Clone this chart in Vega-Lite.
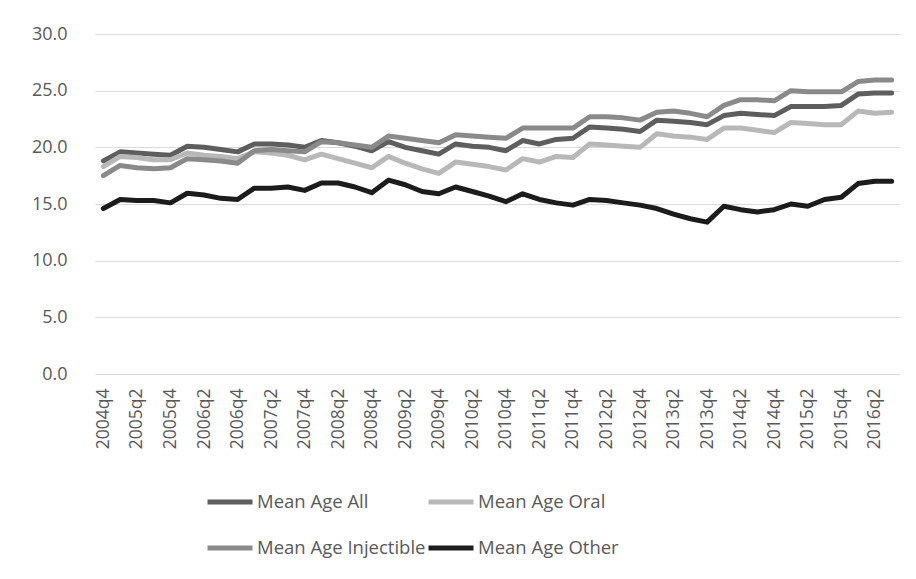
{
  "$schema": "https://vega.github.io/schema/vega-lite/v6.json",
  "width": 805,
  "height": 340,
  "autosize": {"type": "none"},
  "padding": {"left": 95, "top": 34, "right": 16, "bottom": 205},
  "background": "white",
  "config": {
    "view": {"stroke": null},
    "font": "Open Sans"
  },
  "data": {
    "values": [
      {"q": "2004q4", "Mean Age All": 18.8, "Mean Age Oral": 18.3, "Mean Age Injectible": 17.5, "Mean Age Other": 14.6},
      {"q": "2005q1", "Mean Age All": 19.6, "Mean Age Oral": 19.2, "Mean Age Injectible": 18.4, "Mean Age Other": 15.4},
      {"q": "2005q2", "Mean Age All": 19.5, "Mean Age Oral": 19.1, "Mean Age Injectible": 18.2, "Mean Age Other": 15.3},
      {"q": "2005q3", "Mean Age All": 19.4, "Mean Age Oral": 18.9, "Mean Age Injectible": 18.1, "Mean Age Other": 15.3},
      {"q": "2005q4", "Mean Age All": 19.3, "Mean Age Oral": 18.9, "Mean Age Injectible": 18.2, "Mean Age Other": 15.1},
      {"q": "2006q1", "Mean Age All": 20.1, "Mean Age Oral": 19.5, "Mean Age Injectible": 19.0, "Mean Age Other": 15.95},
      {"q": "2006q2", "Mean Age All": 20.0, "Mean Age Oral": 19.3, "Mean Age Injectible": 18.9, "Mean Age Other": 15.8},
      {"q": "2006q3", "Mean Age All": 19.8, "Mean Age Oral": 19.2, "Mean Age Injectible": 18.8, "Mean Age Other": 15.5},
      {"q": "2006q4", "Mean Age All": 19.6, "Mean Age Oral": 19.0, "Mean Age Injectible": 18.6, "Mean Age Other": 15.4},
      {"q": "2007q1", "Mean Age All": 20.3, "Mean Age Oral": 19.6, "Mean Age Injectible": 19.7, "Mean Age Other": 16.4},
      {"q": "2007q2", "Mean Age All": 20.3, "Mean Age Oral": 19.5, "Mean Age Injectible": 19.8, "Mean Age Other": 16.4},
      {"q": "2007q3", "Mean Age All": 20.2, "Mean Age Oral": 19.3, "Mean Age Injectible": 19.7, "Mean Age Other": 16.5},
      {"q": "2007q4", "Mean Age All": 20.0, "Mean Age Oral": 18.9, "Mean Age Injectible": 19.6, "Mean Age Other": 16.2},
      {"q": "2008q1", "Mean Age All": 20.6, "Mean Age Oral": 19.4, "Mean Age Injectible": 20.5, "Mean Age Other": 16.85},
      {"q": "2008q2", "Mean Age All": 20.4, "Mean Age Oral": 19.0, "Mean Age Injectible": 20.4, "Mean Age Other": 16.85},
      {"q": "2008q3", "Mean Age All": 20.1, "Mean Age Oral": 18.6, "Mean Age Injectible": 20.2, "Mean Age Other": 16.5},
      {"q": "2008q4", "Mean Age All": 19.7, "Mean Age Oral": 18.2, "Mean Age Injectible": 20.0, "Mean Age Other": 16.0},
      {"q": "2009q1", "Mean Age All": 20.5, "Mean Age Oral": 19.2, "Mean Age Injectible": 21.0, "Mean Age Other": 17.1},
      {"q": "2009q2", "Mean Age All": 20.0, "Mean Age Oral": 18.6, "Mean Age Injectible": 20.8, "Mean Age Other": 16.7},
      {"q": "2009q3", "Mean Age All": 19.7, "Mean Age Oral": 18.1, "Mean Age Injectible": 20.6, "Mean Age Other": 16.1},
      {"q": "2009q4", "Mean Age All": 19.4, "Mean Age Oral": 17.7, "Mean Age Injectible": 20.4, "Mean Age Other": 15.9},
      {"q": "2010q1", "Mean Age All": 20.3, "Mean Age Oral": 18.7, "Mean Age Injectible": 21.1, "Mean Age Other": 16.5},
      {"q": "2010q2", "Mean Age All": 20.1, "Mean Age Oral": 18.5, "Mean Age Injectible": 21.0, "Mean Age Other": 16.1},
      {"q": "2010q3", "Mean Age All": 20.0, "Mean Age Oral": 18.3, "Mean Age Injectible": 20.9, "Mean Age Other": 15.7},
      {"q": "2010q4", "Mean Age All": 19.7, "Mean Age Oral": 18.0, "Mean Age Injectible": 20.8, "Mean Age Other": 15.2},
      {"q": "2011q1", "Mean Age All": 20.6, "Mean Age Oral": 19.0, "Mean Age Injectible": 21.7, "Mean Age Other": 15.9},
      {"q": "2011q2", "Mean Age All": 20.3, "Mean Age Oral": 18.7, "Mean Age Injectible": 21.7, "Mean Age Other": 15.4},
      {"q": "2011q3", "Mean Age All": 20.7, "Mean Age Oral": 19.2, "Mean Age Injectible": 21.7, "Mean Age Other": 15.1},
      {"q": "2011q4", "Mean Age All": 20.8, "Mean Age Oral": 19.1, "Mean Age Injectible": 21.7, "Mean Age Other": 14.9},
      {"q": "2012q1", "Mean Age All": 21.8, "Mean Age Oral": 20.3, "Mean Age Injectible": 22.7, "Mean Age Other": 15.4},
      {"q": "2012q2", "Mean Age All": 21.7, "Mean Age Oral": 20.2, "Mean Age Injectible": 22.7, "Mean Age Other": 15.3},
      {"q": "2012q3", "Mean Age All": 21.6, "Mean Age Oral": 20.1, "Mean Age Injectible": 22.6, "Mean Age Other": 15.1},
      {"q": "2012q4", "Mean Age All": 21.4, "Mean Age Oral": 20.0, "Mean Age Injectible": 22.4, "Mean Age Other": 14.9},
      {"q": "2013q1", "Mean Age All": 22.4, "Mean Age Oral": 21.2, "Mean Age Injectible": 23.1, "Mean Age Other": 14.6},
      {"q": "2013q2", "Mean Age All": 22.3, "Mean Age Oral": 21.0, "Mean Age Injectible": 23.2, "Mean Age Other": 14.1},
      {"q": "2013q3", "Mean Age All": 22.2, "Mean Age Oral": 20.9, "Mean Age Injectible": 23.0, "Mean Age Other": 13.7},
      {"q": "2013q4", "Mean Age All": 22.0, "Mean Age Oral": 20.7, "Mean Age Injectible": 22.7, "Mean Age Other": 13.4},
      {"q": "2014q1", "Mean Age All": 22.8, "Mean Age Oral": 21.7, "Mean Age Injectible": 23.7, "Mean Age Other": 14.8},
      {"q": "2014q2", "Mean Age All": 23.0, "Mean Age Oral": 21.7, "Mean Age Injectible": 24.2, "Mean Age Other": 14.5},
      {"q": "2014q3", "Mean Age All": 22.9, "Mean Age Oral": 21.5, "Mean Age Injectible": 24.2, "Mean Age Other": 14.3},
      {"q": "2014q4", "Mean Age All": 22.8, "Mean Age Oral": 21.3, "Mean Age Injectible": 24.1, "Mean Age Other": 14.5},
      {"q": "2015q1", "Mean Age All": 23.6, "Mean Age Oral": 22.2, "Mean Age Injectible": 25.0, "Mean Age Other": 15.0},
      {"q": "2015q2", "Mean Age All": 23.6, "Mean Age Oral": 22.1, "Mean Age Injectible": 24.9, "Mean Age Other": 14.8},
      {"q": "2015q3", "Mean Age All": 23.6, "Mean Age Oral": 22.0, "Mean Age Injectible": 24.9, "Mean Age Other": 15.4},
      {"q": "2015q4", "Mean Age All": 23.7, "Mean Age Oral": 22.0, "Mean Age Injectible": 24.9, "Mean Age Other": 15.6},
      {"q": "2016q1", "Mean Age All": 24.7, "Mean Age Oral": 23.2, "Mean Age Injectible": 25.8, "Mean Age Other": 16.8},
      {"q": "2016q2", "Mean Age All": 24.8, "Mean Age Oral": 23.0, "Mean Age Injectible": 25.95, "Mean Age Other": 17.0},
      {"q": "2016q3", "Mean Age All": 24.8, "Mean Age Oral": 23.1, "Mean Age Injectible": 25.95, "Mean Age Other": 17.0}
    ]
  },
  "transform": [
    {"fold": ["Mean Age All", "Mean Age Oral", "Mean Age Injectible", "Mean Age Other"], "as": ["series", "age"]}
  ],
  "mark": {"type": "line", "strokeWidth": 5, "strokeCap": "round", "strokeJoin": "round"},
  "encoding": {
    "x": {
      "field": "q",
      "type": "ordinal",
      "sort": null,
      "scale": {"type": "point", "padding": 0.5},
      "axis": {
        "title": null,
        "domain": false,
        "ticks": false,
        "grid": false,
        "labelAngle": -90,
        "labelPadding": 14,
        "labelFontSize": 17.5,
        "labelColor": "#595959",
        "labelFont": "Open Sans",
        "labelOverlap": false,
        "labelExpr": "indexof(datum.label, 'q2') > 0 || indexof(datum.label, 'q4') > 0 ? datum.label : ''"
      }
    },
    "y": {
      "field": "age",
      "type": "quantitative",
      "scale": {"domain": [0, 30], "nice": false},
      "axis": {
        "title": null,
        "values": [0, 5, 10, 15, 20, 25, 30],
        "format": ".1f",
        "domain": false,
        "ticks": false,
        "labelPadding": 28,
        "labelFontSize": 18,
        "labelColor": "#595959",
        "labelFont": "Open Sans",
        "gridColor": "#d9d9d9",
        "gridWidth": 1.2
      }
    },
    "color": {
      "field": "series",
      "type": "nominal",
      "scale": {
        "domain": ["Mean Age All", "Mean Age Oral", "Mean Age Injectible", "Mean Age Other"],
        "range": ["#5e5e5e", "#b8b8b8", "#8a8a8a", "#1c1c1c"]
      },
      "legend": {
        "title": null,
        "orient": "none",
        "legendX": 110,
        "legendY": 443,
        "columns": 2,
        "direction": "horizontal",
        "symbolType": "stroke",
        "symbolSize": 2025,
        "symbolStrokeWidth": 5,
        "labelFontSize": 18.5,
        "labelColor": "#595959",
        "labelFont": "Open Sans",
        "labelLimit": 0,
        "labelOffset": 2,
        "rowPadding": 11,
        "columnPadding": -8
      }
    },
    "order": {"field": "series"}
  }
}
